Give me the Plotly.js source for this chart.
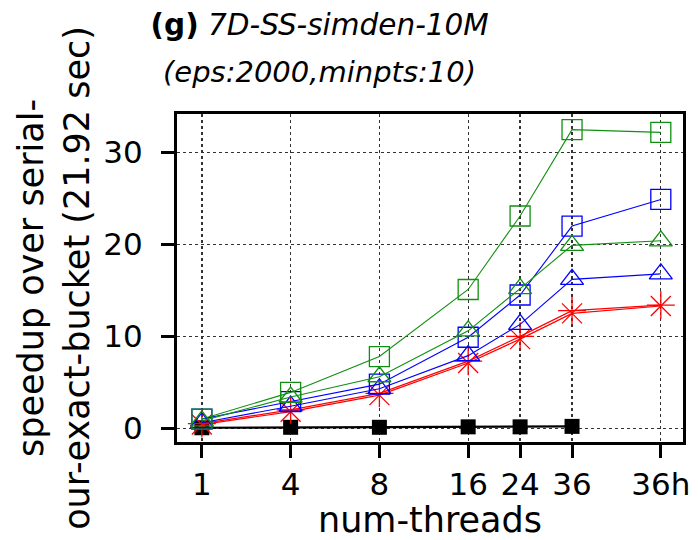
<!DOCTYPE html>
<html>
<head>
<meta charset="utf-8">
<script src="https://cdn.plot.ly/plotly-3.0.1.min.js"></script>
<style>html,body{margin:0;padding:0;background:#fff;}#chart{width:698px;height:540px;}</style>
</head>
<body>
<div id="chart"></div>
<script>
// x positions follow log2 of thread count (36h placed one step after 36)
const threadLabels = ["1", "4", "8", "16", "24", "36", "36h"];
const threadPos = [0, 1, 2, 3, 3.585, 4.17, 5.17];

const greenSquare = [1.0, 3.9, 7.8, 15.1, 23.1, 32.5, 32.2];
const greenTriangle = [0.8, 3.4, 5.6, 10.6, 15.2, 19.9, 20.4];
const blueSquare = [1.0, 2.9, 4.8, 9.9, 14.5, 22.0, 24.9];
const blueTriangle = [0.6, 2.4, 4.3, 7.9, 11.3, 16.2, 16.8];
const redPlus = [0.5, 2.0, 3.8, 7.3, 10.0, 12.8, 13.4];
const redX = [0.4, 1.8, 3.6, 7.1, 9.7, 12.5, 13.3];
const blackSquare = [0.05, 0.1, 0.1, 0.15, 0.15, 0.2];

const F = "DejaVu Sans, sans-serif";

function tr(y, color, symbol, size, lw, mlw, n) {
  const xs = threadPos.slice(0, n || y.length);
  return {
    x: xs, y: y, type: "scatter", mode: "lines+markers",
    line: {color: color, width: lw},
    marker: {symbol: symbol, size: size, color: color, line: {color: color, width: mlw}},
    showlegend: false, cliponaxis: false
  };
}

const data = [
  tr(blackSquare, "black", "square", 15, 2.2, 0, blackSquare.length),
  tr(redX, "red", "x-thin-open", 20, 1.2, 1.3),
  tr(redPlus, "red", "cross-thin-open", 20, 1.2, 1.3),
  tr(blueTriangle, "blue", "triangle-up-open", 20, 1.1, 1.3),
  tr(blueSquare, "blue", "square-open", 20, 1.1, 1.3),
  tr(greenTriangle, "#109010", "triangle-up-open", 20, 1.1, 1.3),
  tr(greenSquare, "#109010", "square-open", 20, 1.1, 1.3)
];

const layout = {
  width: 698, height: 540,
  margin: {l: 177, r: 15, t: 114, b: 98},
  paper_bgcolor: "white", plot_bgcolor: "white",
  font: {family: F, color: "black"},
  title: {
    text: "<b>(g)</b> <i>7D-SS-simden-10M</i>",
    font: {family: F, size: 29.5, color: "black"},
    x: 0.458, xref: "container", xanchor: "center",
    y: 0.955, yref: "container", yanchor: "middle"
  },
  annotations: [{
    text: "<i>(eps:2000,minpts:10)</i>",
    font: {family: F, size: 29, color: "black"},
    xref: "paper", yref: "paper", x: 0.2826, y: 1.128,
    xanchor: "center", yanchor: "middle", showarrow: false
  }],
  xaxis: {
    range: [-0.28, 5.42],
    tickmode: "array", tickvals: threadPos, ticktext: threadLabels,
    tickfont: {family: F, size: 31, color: "black"},
    ticks: "outside", ticklen: 13, tickwidth: 3, tickcolor: "black",
    showline: true, linecolor: "black", linewidth: 3, mirror: true,
    showgrid: true, gridcolor: "#333", gridwidth: 1.3, griddash: "dot",
    zeroline: false,
    title: {text: "num-threads", font: {family: F, size: 35, color: "black"}, standoff: 2}
  },
  yaxis: {
    range: [-1.5, 34.2],
    tickmode: "array", tickvals: [0, 10, 20, 30],
    tickfont: {family: F, size: 31, color: "black"},
    ticks: "outside", ticklen: 13, tickwidth: 3, tickcolor: "black",
    ticklabelstandoff: 12,
    showline: true, linecolor: "black", linewidth: 3, mirror: true,
    showgrid: true, gridcolor: "#333", gridwidth: 1.3, griddash: "dot",
    zeroline: false,
    title: {text: "speedup over serial-<br>our-exact-bucket (21.92 sec)", font: {family: F, size: 35, color: "black"}, standoff: 4}
  }
};

Plotly.newPlot("chart", data, layout, {displayModeBar: false, staticPlot: true});
</script>
</body>
</html>
